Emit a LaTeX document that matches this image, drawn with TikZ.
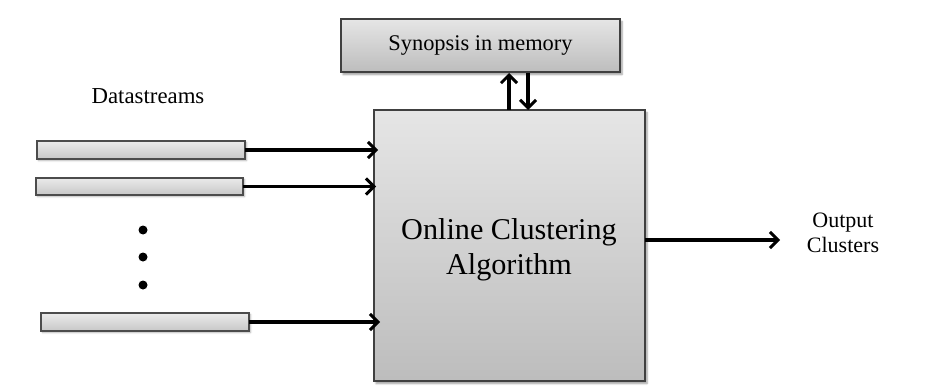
\documentclass[tikz,border=0pt]{standalone}
\usepackage{fontspec}
\setmainfont{Liberation Serif}
\usetikzlibrary{arrows.meta,shadows.blur}
\begin{document}
\begin{tikzpicture}[x=1pt,y=-1pt,
  box/.style={draw=black!75,line width=1.3pt,top color=black!10,bottom color=black!26,
    blur shadow={shadow xshift=2pt,shadow yshift=-2.5pt,shadow blur steps=5,shadow opacity=40}},
  bar/.style={draw=black!70,line width=1.1pt,top color=black!8,bottom color=black!22,
    blur shadow={shadow xshift=1.5pt,shadow yshift=-1.5pt,shadow blur steps=3,shadow opacity=35}},
  flow/.style={line width=3.2pt,-{Straight Barb[length=8pt,width=16pt,line width=3pt]}},
  dot/.style={circle,fill=black,inner sep=0pt,minimum size=9pt}]
\useasboundingbox (0,0) rectangle (928,390);
% memory synopsis and the clustering block
\draw[box] (341,19) rectangle (620,72);
\node (syn) at (480.5,46) {\fontsize{22.4}{26}\selectfont Synopsis in memory};
\draw[box] (374,110) rectangle (645,381);
\node (alg) at (509,249.5) [align=center,font=\fontsize{30.2}{35}\selectfont] {Online Clustering\\Algorithm};
% input streams
\draw[bar] (37,141) rectangle (245,159);
\draw[bar] (36,178) rectangle (243,195);
\draw[bar] (41,313) rectangle (249,331);
\coordinate (s1) at (245,150);
\coordinate (s2) at (243,186.5);
\coordinate (s3) at (249,322);
\coordinate (t1) at (378,150);
\coordinate (t2) at (376,186.5);
\coordinate (t3) at (380,322);
\draw[flow] (s1) -- (t1);
\draw[flow] (s2) -- (t2);
\draw[flow] (s3) -- (t3);
\node (lbl) at (148,96) {\fontsize{22.8}{26}\selectfont Datastreams};
\node[dot] (d1) at (143,230) {};
\node[dot] (d2) at (143,257) {};
\node[dot] (d3) at (143,285) {};
% exchange with memory
\coordinate (upA) at (509,110);
\coordinate (upB) at (509,73);
\coordinate (dnA) at (528,73);
\coordinate (dnB) at (528,110);
\draw[flow] (upA) -- (upB);
\draw[flow] (dnA) -- (dnB);
% output
\coordinate (oA) at (645,240);
\coordinate (oB) at (780,240);
\draw[flow] (oA) -- (oB);
\node (out) at (843,233) [align=center,font=\fontsize{22}{25}\selectfont] {Output\\Clusters};
\end{tikzpicture}
\end{document}
